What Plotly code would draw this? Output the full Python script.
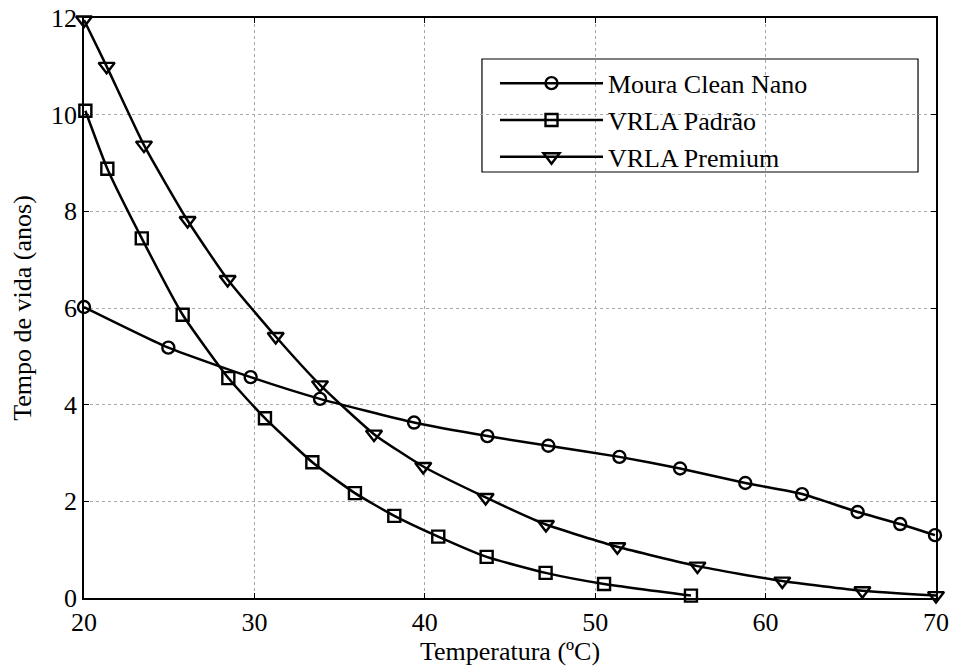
import plotly.graph_objects as go

# Battery lifetime vs. temperature
moura_t = [20.0, 24.95, 29.78, 33.85, 39.37, 43.67, 47.25, 51.42, 54.98, 58.81, 62.14, 65.4, 67.9, 69.94]
moura_v = [6.02, 5.18, 4.57, 4.12, 3.63, 3.35, 3.15, 2.92, 2.68, 2.38, 2.15, 1.78, 1.53, 1.30]

padrao_t = [20.08, 21.37, 23.39, 25.79, 28.47, 30.62, 33.40, 35.90, 38.21, 40.79, 43.63, 47.09, 50.52, 55.62]
padrao_v = [10.08, 8.88, 7.44, 5.86, 4.55, 3.72, 2.81, 2.17, 1.70, 1.27, 0.85, 0.52, 0.29, 0.05]

premium_t = [20.0, 21.33, 23.52, 26.08, 28.43, 31.25, 33.85, 37.02, 39.91, 43.57, 47.11, 51.30, 56.0, 60.98, 65.68, 70.0]
premium_v = [11.96, 11.0, 9.37, 7.81, 6.59, 5.41, 4.41, 3.39, 2.72, 2.08, 1.52, 1.06, 0.66, 0.35, 0.15, 0.05]

x_ticks = [20, 30, 40, 50, 60, 70]
y_ticks = [0, 2, 4, 6, 8, 10, 12]

FONT = "Liberation Serif"
FSIZE = 26

fig = go.Figure()

series = [
    ("Moura Clean Nano", moura_t, moura_v, "circle-open", 12),
    ("VRLA Padrão", padrao_t, padrao_v, "square-open", 12),
    ("VRLA Premium", premium_t, premium_v, "triangle-down-open", 14),
]
for name, xs, ys, sym, sz in series:
    fig.add_trace(go.Scatter(
        x=xs, y=ys, name=name, mode="lines+markers",
        line=dict(color="black", width=2.5, shape="spline", smoothing=0.5),
        marker=dict(symbol=sym, size=sz, color="black",
                    line=dict(color="black", width=2.4)),
        cliponaxis=False,
    ))

axis_common = dict(
    showline=True, linecolor="black", linewidth=1.5, mirror="ticks",
    ticks="inside", ticklen=5, tickwidth=1, tickcolor="black",
    showgrid=True, gridcolor="#a8a8a8", gridwidth=1, griddash="dot",
    zeroline=False, automargin=False,
    tickfont=dict(family=FONT, size=FSIZE, color="black"),
)

fig.update_xaxes(
    range=[20, 70], tickvals=x_ticks,
    title=dict(text="Temperatura (ºC)", font=dict(family=FONT, size=FSIZE, color="black"), standoff=0),
    **axis_common,
)
fig.update_yaxes(
    range=[0, 12], tickvals=y_ticks,
    title=dict(text="Tempo de vida (anos)", font=dict(family=FONT, size=FSIZE, color="black"), standoff=12),
    **axis_common,
)

# Legend frame (white box that hides the grid behind the legend entries)
fig.add_shape(
    type="rect", xref="paper", yref="paper",
    x0=0.4671, x1=0.9789, y0=0.7345, y1=0.9293,
    fillcolor="white", line=dict(color="black", width=1.2), layer="between",
)

fig.update_layout(
    width=954, height=668,
    margin=dict(l=84, r=18, t=18, b=70, autoexpand=False),
    paper_bgcolor="white", plot_bgcolor="white",
    showlegend=True,
    legend=dict(
        x=0.4824, y=0.928, xanchor="left", yanchor="top",
        bgcolor="rgba(0,0,0,0)", borderwidth=0,
        font=dict(family=FONT, size=FSIZE, color="black"),
        itemwidth=103, tracegroupgap=0,
    ),
)

fig.write_html("out.html")
